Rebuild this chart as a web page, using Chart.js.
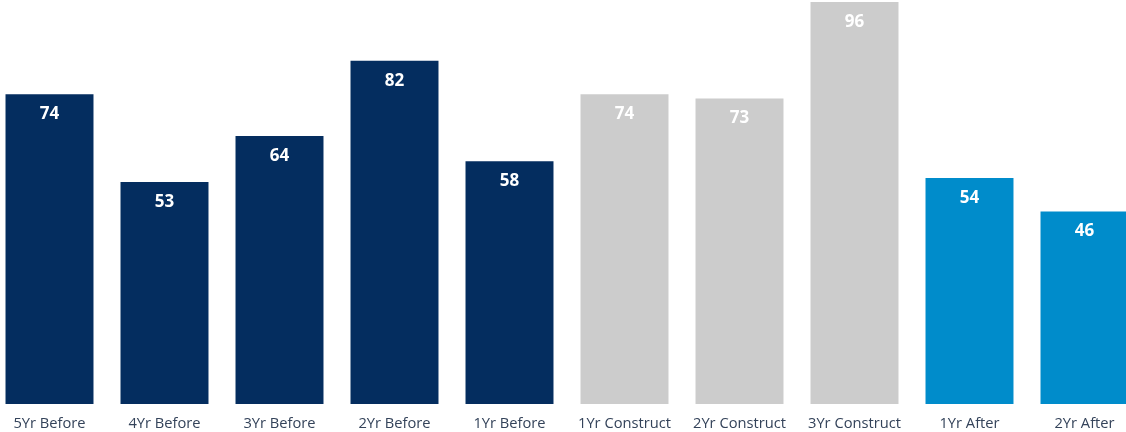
<!DOCTYPE html>
<html>
<head>
<meta charset="utf-8">
<script src="https://cdn.jsdelivr.net/npm/chart.js@4"></script>
<style>
  html, body { margin: 0; padding: 0; background: #fff; overflow: hidden; }
  /* canvas a bit wider than the window so the outer bars sit flush like the original */
  #wrap { width: 1150px; height: 432px; margin-left: -8px; }
</style>
</head>
<body>
<div id="wrap"><canvas id="barChart"></canvas></div>
<script>
// Categories and values
const categories = ['5Yr Before', '4Yr Before', '3Yr Before', '2Yr Before', '1Yr Before',
    '1Yr Construct', '2Yr Construct', '3Yr Construct', '1Yr After', '2Yr After'];
const values = [74, 53, 64, 82, 58, 74, 73, 96, 54, 46];
const phases = ['before', 'before', 'before', 'before', 'before',
    'construct', 'construct', 'construct', 'after', 'after'];

const phaseColors = { before: '#042D5F', construct: '#CCCCCC', after: '#008CCB' };

// Value labels inside the top of each bar
const valueLabels = {
    id: 'valueLabels',
    afterDatasetsDraw(chart) {
        const ctx = chart.ctx;
        const meta = chart.getDatasetMeta(0);
        ctx.save();
        ctx.fillStyle = '#ffffff';
        ctx.font = 'bold 17px "Open Sans", sans-serif';
        ctx.textAlign = 'center';
        ctx.textBaseline = 'middle';
        meta.data.forEach((bar, i) => {
            ctx.fillText(values[i], bar.x, bar.y + 20);
        });
        ctx.restore();
    }
};

const ctx = document.getElementById('barChart').getContext('2d');
new Chart(ctx, {
    type: 'bar',
    data: {
        labels: categories,
        datasets: [{
            data: values,
            backgroundColor: phases.map(p => phaseColors[p]),
            barPercentage: 0.765,
            categoryPercentage: 1
        }]
    },
    options: {
        responsive: true,
        maintainAspectRatio: false,
        animation: false,
        layout: { padding: 0 },
        plugins: { legend: { display: false }, tooltip: { enabled: false } },
        scales: {
            x: {
                grid: { display: false },
                border: { display: false },
                ticks: {
                    color: '#34435A',
                    font: { family: '"Open Sans", sans-serif', size: 14.7 },
                    maxRotation: 0,
                    autoSkip: false,
                    padding: 3
                },
                afterFit(scale) { scale.height = 28; }
            },
            y: {
                display: false,
                min: 0,
                max: 96.5
            }
        }
    },
    plugins: [valueLabels]
});
</script>
</body>
</html>
